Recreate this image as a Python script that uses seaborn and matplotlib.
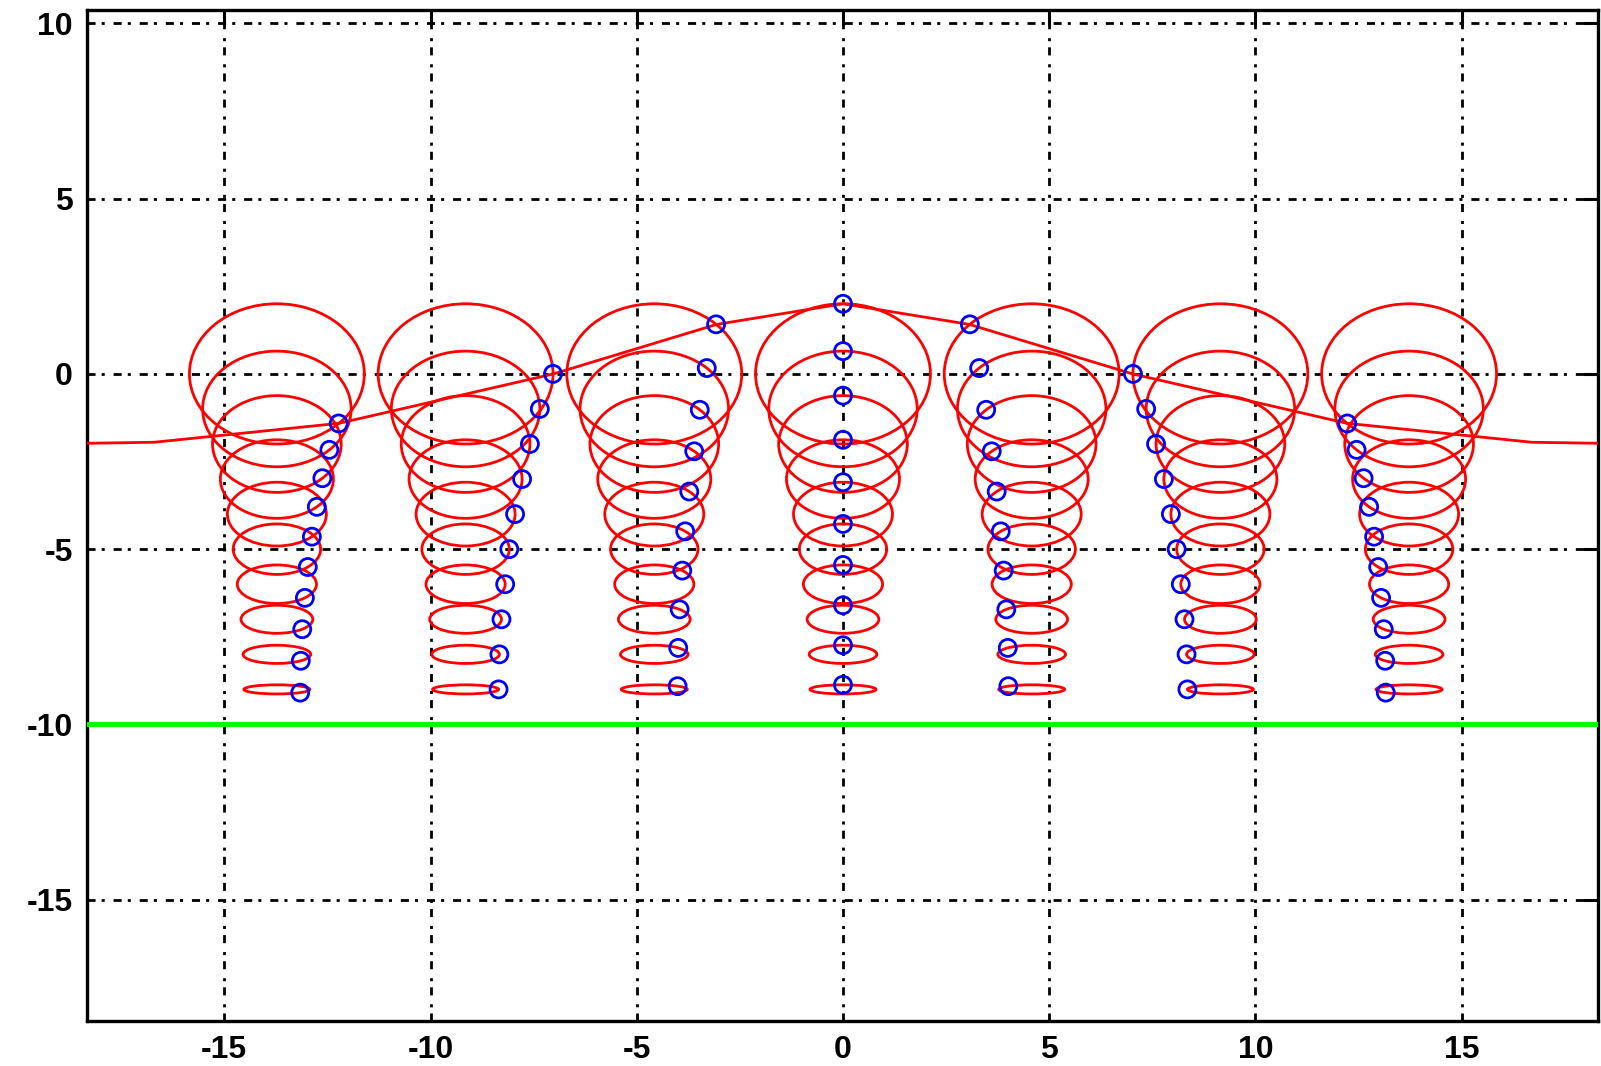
import numpy as np
import pandas as pd
import matplotlib
matplotlib.use("Agg")
import matplotlib.pyplot as plt
from matplotlib.patches import Ellipse
import seaborn as sns

# ---- data ----
column_x = [-13.725, -9.15, -4.575, 0.0, 4.575, 9.15, 13.725]       # ellipse centres (x)
column_phase_deg = [135, 90, 45, 0, -45, -90, -135]                 # particle phase per column
depth_y = [0, -1, -2, -3, -4, -5, -6, -7, -8, -9]                   # ellipse centres (y)
semi_x = [2.12, 1.80, 1.56, 1.37, 1.20, 1.06, 0.96, 0.87, 0.82, 0.80]  # horizontal semi-axes
semi_y = [2.00, 1.65, 1.38, 1.12, 0.91, 0.72, 0.55, 0.40, 0.26, 0.13]  # vertical semi-axes

surface_x = [-18.35, -16.7, -12.22, -7.02, -3.07, 0.0, 3.07, 7.02, 12.22, 16.7, 18.35]
surface_y = [-1.98, -1.95, -1.41, 0.0, 1.41, 2.0, 1.41, 0.0, -1.41, -1.95, -1.98]

bottom_y = -10.0
x_ticks = [-15, -10, -5, 0, 5, 10, 15]
y_ticks = [-15, -10, -5, 0, 5, 10]
x_lim = (-18.33, 18.3)
y_lim = (-18.46, 10.38)

# ---- style ----
sns.set_style("white")
plt.rcParams['font.family'] = ['Liberation Sans', 'DejaVu Sans']
plt.rcParams['font.weight'] = 'bold'

fig = plt.figure(figsize=(16.01, 10.66), dpi=100)
ax = fig.add_axes([0.0543, 0.0422, 0.9437, 0.9484])

dash = (0, (2.9, 2.2, 1.1, 3.2))
for xt in x_ticks:
    ax.plot([xt, xt], list(y_lim), color='black', lw=2.0, linestyle=dash, zorder=1)
for yt in y_ticks:
    ax.plot(list(x_lim), [yt, yt], color='black', lw=2.0, linestyle=dash, zorder=1)

# ellipses
for cx in column_x:
    for cy, a, b in zip(depth_y, semi_x, semi_y):
        ax.add_patch(Ellipse((cx, cy), 2 * a, 2 * b, fill=False,
                             edgecolor='#ff0000', lw=2.0, zorder=2))

# surface line
surf = pd.DataFrame({'x': surface_x, 'y': surface_y})
sns.lineplot(data=surf, x='x', y='y', sort=False, estimator=None,
             color='#ff0000', lw=2.0, ax=ax, zorder=3)

# bottom line
bot = pd.DataFrame({'x': list(x_lim), 'y': [bottom_y, bottom_y]})
sns.lineplot(data=bot, x='x', y='y', sort=False, estimator=None,
             color='#00ff00', lw=3.6, ax=ax, zorder=3)

# particle markers
rows = []
for cx, ph in zip(column_x, column_phase_deg):
    t = np.deg2rad(ph)
    for cy, a, b in zip(depth_y, semi_x, semi_y):
        rows.append((cx + a * np.sin(t), cy + b * np.cos(t)))
pts = pd.DataFrame(rows, columns=['x', 'y'])
sns.scatterplot(data=pts, x='x', y='y', marker='o', s=150,
                facecolors='none', edgecolor='#0000ff', linewidth=2.0,
                ax=ax, zorder=4)

ax.set_xlim(*x_lim)
ax.set_ylim(*y_lim)
ax.set_xticks(x_ticks)
ax.set_yticks(y_ticks)
ax.set_xticklabels([str(v) for v in x_ticks])
ax.set_yticklabels([str(v) for v in y_ticks])
ax.set_xlabel('')
ax.set_ylabel('')
ax.tick_params(direction='in', length=11, width=2.2, top=True, right=True,
               labelsize=23, pad=10, colors='black')
for lab in ax.get_xticklabels() + ax.get_yticklabels():
    lab.set_fontweight('bold')
for sp in ax.spines.values():
    sp.set_visible(True)
    sp.set_color('black')
    sp.set_linewidth(2.4)

fig.savefig('out.png', dpi=100, facecolor='white')
